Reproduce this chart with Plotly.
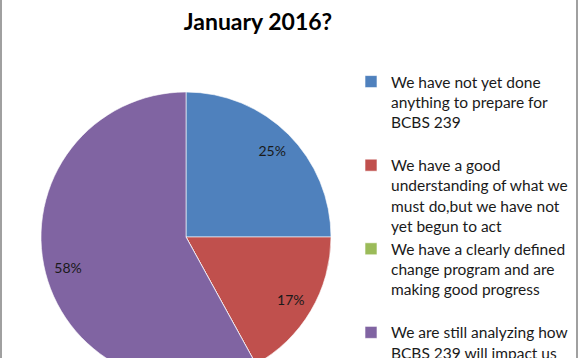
import plotly.graph_objects as go

labels = [
    "We have not yet done<br>anything to prepare for<br>BCBS 239<br> ",
    "We have a good<br>understanding of what we<br>must do,but we have not<br>yet begun to act",
    "We have a clearly defined<br>change program and are<br>making good progress<br> ",
    "We are still analyzing how<br>BCBS 239 will impact us",
]
values = [25, 17, 0, 58]
colors = ["#4F81BD", "#C0504D", "#9BBB59", "#8064A2"]

W, H = 580, 440
cx, cy, r = 186, 237, 145
dom = dict(x=[(cx - r) / W, (cx + r) / W], y=[(H - cy - r) / H, (H - cy + r) / H])

fig = go.Figure()
fig.add_trace(go.Pie(
    labels=labels,
    values=values,
    sort=False,
    direction="clockwise",
    rotation=0,
    marker=dict(colors=colors, line=dict(color="rgba(255,255,255,0.6)", width=1)),
    textinfo="none",
    domain=dom,
    hoverinfo="skip",
))
# transparent ring used only to place the percentage labels near the rim
fig.add_trace(go.Pie(
    labels=labels,
    values=values,
    sort=False,
    direction="clockwise",
    rotation=0,
    hole=0.68,
    marker=dict(colors=["rgba(0,0,0,0)"] * len(values), line=dict(width=0)),
    texttemplate="%{percent:.0%}",
    textposition="inside",
    insidetextorientation="horizontal",
    textfont=dict(family="Lato", size=14, color="#1a1a1a"),
    domain=dom,
    hoverinfo="skip",
    showlegend=False,
))

fig.update_layout(
    width=W, height=H,
    autosize=False,
    margin=dict(l=0, r=0, t=0, b=0),
    paper_bgcolor="white",
    plot_bgcolor="white",
    title=dict(text="<b>January 2016?</b>", x=258 / W, xanchor="center",
               y=1 - 22 / H, yanchor="middle",
               font=dict(family="Lato", size=23, color="black")),
    showlegend=True,
    legend=dict(x=351 / W, xanchor="left", y=1 - 65 / H, yanchor="top",
                font=dict(family="Lato", size=15.5, color="#1a1a1a"),
                valign="top", traceorder="normal", bgcolor="rgba(0,0,0,0)"),
    shapes=[
        dict(type="line", xref="paper", yref="paper", x0=1 / W, x1=1 / W, y0=0, y1=1,
             line=dict(color="#a0a0a0", width=2)),
        dict(type="line", xref="paper", yref="paper", x0=577 / W, x1=577 / W, y0=0, y1=1,
             line=dict(color="#a0a0a0", width=2)),
    ],
)

fig.write_html(
    "out.html",
    config={"displayModeBar": False},
    post_script=(
        "document.body.style.margin='0px';"
        "document.documentElement.style.overflow='hidden';"
        "document.body.style.overflow='hidden';"
        "Plotly.relayout('{plot_id}', {width: %d, height: %d});" % (W, H)
    ),
)
